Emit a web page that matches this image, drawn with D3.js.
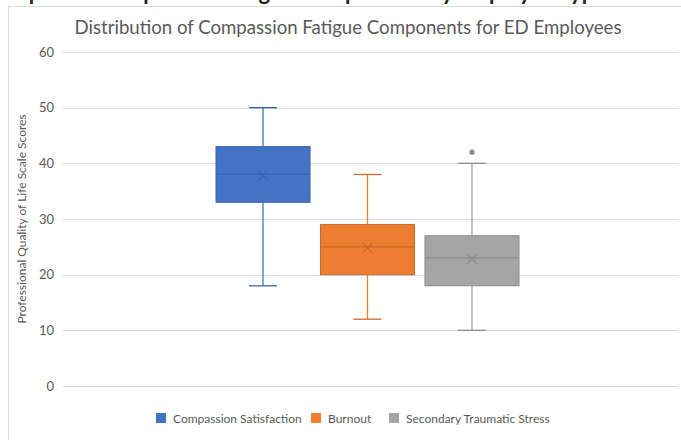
<!DOCTYPE html>
<html>
<head>
<meta charset="utf-8">
<script src="https://cdn.jsdelivr.net/npm/d3@7"></script>
<style>
  body { margin: 0; background: #fff; }
  svg { display: block; font-family: Lato, "Open Sans", sans-serif; }
</style>
</head>
<body>
<svg id="chart" width="681" height="440"></svg>
<script>
// series and their five-number summaries
const series = ["Compassion Satisfaction", "Burnout", "Secondary Traumatic Stress"];
const colors = ["#4472C4", "#ED7D31", "#A5A5A5"];
const darker = ["#3A64B0", "#C9682A", "#8C8C8C"];
const mins = [18, 12, 10];
const q1s = [33, 20, 18];
const medians = [38, 25, 23];
const q3s = [43, 29, 27];
const maxs = [50, 38, 40];
const means = [37.8, 24.8, 22.8];
const outliers = [[], [], [42]];
const yTicks = [0, 10, 20, 30, 40, 50, 60];

const svg = d3.select("#chart");

// clipped caption line from the page above the chart (only its bottom shows)
svg.append("text")
  .attr("x", 340)
  .attr("y", 0)
  .attr("text-anchor", "middle")
  .style("font-size", "22px")
  .style("font-weight", "bold")
  .style("fill", "#222")
  .text("Figure 3. Box plot of Compassion Fatigue Components by Employee Type for ED Employees");

// chart area border
svg.append("rect")
  .attr("x", 8.5)
  .attr("y", 6.5)
  .attr("width", 700)
  .attr("height", 460)
  .attr("fill", "#fff")
  .attr("stroke", "#d9d9d9");

const margin = { top: 52, left: 63, right: 678, bottom: 386 };

const y = d3.scaleLinear()
  .domain([0, 60])
  .range([margin.bottom, margin.top]);

const x = d3.scaleBand()
  .domain(series)
  .range([216, 519])
  .paddingInner(0.1);

// gridlines
svg.append("g")
  .selectAll("line")
  .data(yTicks)
  .enter()
  .append("line")
  .attr("x1", margin.left)
  .attr("x2", margin.right)
  .attr("y1", d => Math.round(y(d)) + 0.5)
  .attr("y2", d => Math.round(y(d)) + 0.5)
  .attr("stroke", "#d9d9d9")
  .attr("stroke-width", 1);

// y axis labels
const yAxis = svg.append("g")
  .attr("transform", "translate(" + (margin.left - 9) + ",0)")
  .call(d3.axisLeft(y).tickValues(yTicks).tickSize(0).tickPadding(0));
yAxis.select(".domain").remove();
yAxis.selectAll("text")
  .style("font-size", "13px")
  .style("fill", "#595959")
  .style("font-family", "Lato, sans-serif");

// axis title
svg.append("text")
  .attr("transform", "translate(26," + ((margin.top + margin.bottom) / 2) + ") rotate(-90)")
  .attr("text-anchor", "middle")
  .style("font-size", "12px")
  .style("fill", "#595959")
  .text("Professional Quality of Life Scale Scores");

// chart title
svg.append("text")
  .attr("x", 348)
  .attr("y", 34)
  .attr("text-anchor", "middle")
  .attr("textLength", 547)
  .attr("lengthAdjust", "spacingAndGlyphs")
  .style("font-size", "19.5px")
  .style("fill", "#595959")
  .text("Distribution of Compassion Fatigue Components for ED Employees");

// boxes
const data = series.map((s, i) => ({
  name: s, color: colors[i], dark: darker[i],
  min: mins[i], q1: q1s[i], median: medians[i], q3: q3s[i], max: maxs[i],
  mean: means[i], outliers: outliers[i]
}));

const boxes = svg.append("g")
  .selectAll("g")
  .data(data)
  .enter()
  .append("g");

const cx = d => x(d.name) + x.bandwidth() / 2;
const capW = 14;

// whiskers
boxes.append("line")
  .attr("x1", cx).attr("x2", cx)
  .attr("y1", d => y(d.max)).attr("y2", d => y(d.q3))
  .attr("stroke", d => d.color).attr("stroke-width", 1.3);
boxes.append("line")
  .attr("x1", cx).attr("x2", cx)
  .attr("y1", d => y(d.q1)).attr("y2", d => y(d.min))
  .attr("stroke", d => d.color).attr("stroke-width", 1.3);
boxes.append("line")
  .attr("x1", d => cx(d) - capW).attr("x2", d => cx(d) + capW)
  .attr("y1", d => y(d.max)).attr("y2", d => y(d.max))
  .attr("stroke", d => d.dark).attr("stroke-width", 1.3);
boxes.append("line")
  .attr("x1", d => cx(d) - capW).attr("x2", d => cx(d) + capW)
  .attr("y1", d => y(d.min)).attr("y2", d => y(d.min))
  .attr("stroke", d => d.dark).attr("stroke-width", 1.3);

// box
boxes.append("rect")
  .attr("x", d => x(d.name))
  .attr("y", d => y(d.q3))
  .attr("width", x.bandwidth())
  .attr("height", d => y(d.q1) - y(d.q3))
  .attr("fill", d => d.color)
  .attr("stroke", d => d.dark)
  .attr("stroke-width", 1);

// median
boxes.append("line")
  .attr("x1", d => x(d.name)).attr("x2", d => x(d.name) + x.bandwidth())
  .attr("y1", d => y(d.median)).attr("y2", d => y(d.median))
  .attr("stroke", d => d.dark).attr("stroke-width", 1.3);

// mean marker
const m = 5;
boxes.append("path")
  .attr("d", d => {
    const px = cx(d), py = y(d.mean);
    return "M" + (px - m) + "," + (py - m) + "L" + (px + m) + "," + (py + m) +
      "M" + (px - m) + "," + (py + m) + "L" + (px + m) + "," + (py - m);
  })
  .attr("stroke", d => d.dark)
  .attr("stroke-width", 1.2)
  .attr("fill", "none");

// outliers
boxes.selectAll("circle")
  .data(d => d.outliers.map(v => ({ v: v, d: d })))
  .enter()
  .append("circle")
  .attr("cx", o => cx(o.d))
  .attr("cy", o => y(o.v))
  .attr("r", 2.6)
  .attr("fill", o => o.d.dark);

// legend
const legendX = [156, 311, 389];
const legend = svg.append("g")
  .selectAll("g")
  .data(series)
  .enter()
  .append("g")
  .attr("transform", (d, i) => "translate(" + legendX[i] + ",413)");

legend.append("rect")
  .attr("width", 10)
  .attr("height", 10)
  .attr("fill", (d, i) => colors[i]);

legend.append("text")
  .attr("x", 17)
  .attr("y", 9.5)
  .style("font-size", "12px")
  .style("fill", "#595959")
  .text(d => d);
</script>
</body>
</html>
